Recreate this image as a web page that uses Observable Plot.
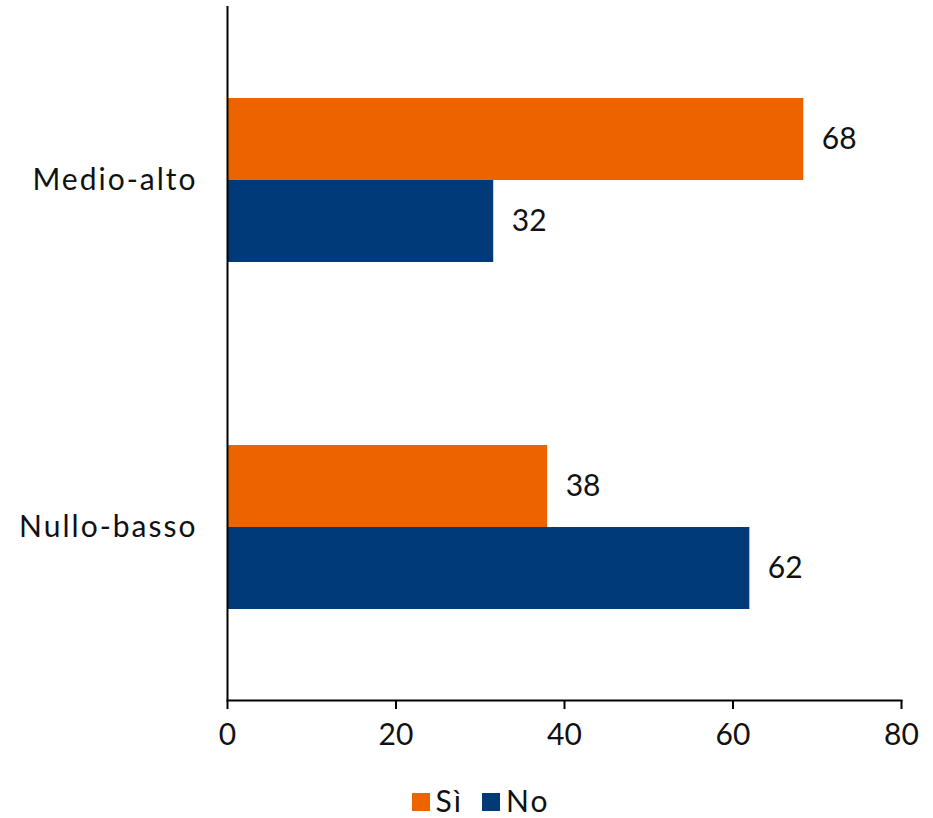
<!DOCTYPE html>
<html>
<head>
<meta charset="utf-8">
<script src="https://cdn.jsdelivr.net/npm/d3@7"></script>
<script src="https://cdn.jsdelivr.net/npm/@observablehq/plot@0.6"></script>
<style>
  html, body { margin: 0; padding: 0; background: #fff; }
  body { width: 933px; font-family: "Lato", "Noto Sans", sans-serif; }
  #legend { box-sizing: border-box; display: flex; justify-content: center; align-items: center; gap: 19px; height: 40px; padding-top: 4px; font-size: 30px; line-height: 30px; color: #111; margin-left: 28px; }
  #legend .item { display: flex; align-items: center; gap: 6px; letter-spacing: 2px; }
  #legend .sw { width: 18px; height: 18px; display: inline-block; margin-top: 3px; }
  g[aria-label="fy-axis tick label"] text { letter-spacing: 2px; }
</style>
</head>
<body>
<div id="chart"></div>
<div id="legend"></div>
<script>
const categories = ["Medio-alto", "Nullo-basso"];
const series = ["Sì", "No"];
const valuesSi = [68.4, 38];
const valuesNo = [31.6, 62];
const xTicks = [0, 20, 40, 60, 80];
const colors = ["#EB6400", "#003A78"];

const data = [];
categories.forEach((c, i) => {
  data.push({category: c, series: series[0], value: valuesSi[i]});
  data.push({category: c, series: series[1], value: valuesNo[i]});
});

const plot = Plot.plot({
  width: 933,
  height: 778,
  marginTop: 6,
  marginBottom: 78,
  marginLeft: 227,
  marginRight: 32,
  style: { fontFamily: "Lato, 'Noto Sans', sans-serif", fontSize: "30px", color: "#111", background: "#fff" },
  x: { domain: [0, 80], label: null },
  y: { domain: series, paddingInner: 0, paddingOuter: 1.1, axis: null },
  fy: { domain: categories, padding: 0, label: null },
  color: { domain: series, range: colors },
  marks: [
    Plot.barX(data, { fy: "category", y: "series", x: "value", fill: "series" }),
    Plot.text(data, { fy: "category", y: "series", x: "value", text: d => String(Math.round(d.value)), textAnchor: "start", dx: 18, fontSize: 30, fill: "#111" }),
    Plot.ruleX([0], { stroke: "#000", strokeWidth: 2 }),
    Plot.frame({ anchor: "bottom", facetAnchor: "bottom", stroke: "#000", strokeWidth: 2 }),
    Plot.axisX({ ticks: xTicks, tickSize: 9, tickPadding: 14, tickFormat: d => String(d), fontSize: 30, stroke: "#000", strokeWidth: 2, label: null, facetAnchor: "bottom" }),
    Plot.axisFy({ anchor: "left", tickSize: 0, tickPadding: 30, fontSize: 30, label: null })
  ]
});
document.getElementById("chart").appendChild(plot);

const legend = document.getElementById("legend");
series.forEach((s, i) => {
  const item = document.createElement("span");
  item.className = "item";
  const sw = document.createElement("span");
  sw.className = "sw";
  sw.style.background = colors[i];
  const t = document.createElement("span");
  t.textContent = s;
  item.appendChild(sw);
  item.appendChild(t);
  legend.appendChild(item);
});
</script>
</body>
</html>
